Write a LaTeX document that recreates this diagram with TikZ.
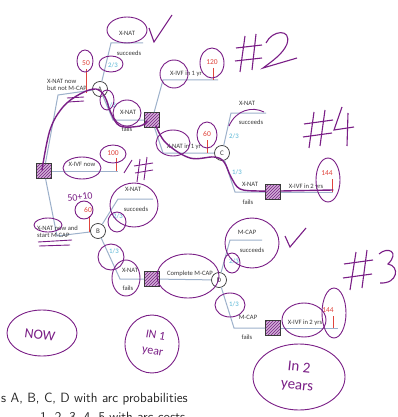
\documentclass[tikz,border=0pt]{standalone}
\usepackage{fontspec}
\setmainfont{Carlito}
\usetikzlibrary{patterns}
\definecolor{brc}{HTML}{9DB1CB}
\definecolor{txc}{HTML}{3A3A3A}
\definecolor{costc}{HTML}{E0443C}
\definecolor{probc}{HTML}{55B5D5}
\definecolor{penc}{HTML}{7A1E86}
\begin{document}
\begin{tikzpicture}[x=1pt,y=-1pt,
  lbl/.style={font=\fontsize{6.6}{7.4}\selectfont, text=txc, inner sep=0pt},
  costlbl/.style={font=\fontsize{7.5}{8}\selectfont, text=costc, inner sep=0pt},
  problbl/.style={font=\fontsize{6.8}{7}\selectfont, text=probc, inner sep=0pt},
  decbox/.style={draw=txc, minimum size=15pt, inner sep=0pt, line width=0.7pt,
     preaction={fill=penc!35}, pattern=north east lines, pattern color=penc},
  chance/.style={circle, draw=txc, minimum size=15pt, inner sep=0pt, line width=0.7pt,
     fill=white, font=\fontsize{7}{8}\selectfont, text=txc},
  edge/.style={draw=brc, line width=1pt},
  tick/.style={draw=costc, line width=0.8pt},
  pen/.style={draw=penc, line width=0.9pt},
  route/.style={draw=penc, line width=1.4pt, line cap=round, line join=round},
  hand/.style={text=penc, inner sep=0pt, font=\fontsize{14}{15}\selectfont}
]
\fill[white] (0,0) rectangle (398,417);
\useasboundingbox (0,0) rectangle (398,417);

% ---------- tree nodes ----------
\node[decbox] (R) at (44,171) {};
\node[chance] (A) at (100,89) {A};
\node[chance] (B) at (98,231) {B};
\node[chance] (C) at (222,153) {C};
\node[chance] (D) at (219,280) {D};
\node[decbox] (S1) at (152,120) {};
\node[decbox] (S2) at (273,192) {};
\node[decbox] (S3) at (152,279) {};
\node[decbox] (S4) at (273,328) {};

% ---------- connector points ----------
\coordinate (a0) at (58,95);
\coordinate (rm) at (118,171);
\coordinate (b0) at (57,236);
\coordinate (au) at (111,43);  \coordinate (au2) at (143,43);
\coordinate (ad) at (113,120);
\coordinate (s1u) at (163,80); \coordinate (s1u2) at (218,80);
\coordinate (s1d) at (163,153);
\coordinate (cu) at (231,113); \coordinate (cu2) at (266,113);
\coordinate (cd) at (235,192);
\coordinate (s2e) at (333,192);
\coordinate (bu) at (118,199); \coordinate (bu2) at (153,199);
\coordinate (bd) at (120,279);
\coordinate (du) at (230,240); \coordinate (du2) at (262,240);
\coordinate (dd) at (234,328);
\coordinate (s4e) at (338,328);

% ---------- connectors ----------
\draw[edge] (R) -- (a0) -- (A);
\draw[edge] (R) -- (rm);
\draw[edge] (R) -- (b0) -- (B);
\draw[edge] (A) -- (au) -- (au2);
\draw[edge] (A) -- (ad) -- (S1);
\draw[edge] (S1) -- (s1u) -- (s1u2);
\draw[edge] (S1) -- (s1d) -- (C);
\draw[edge] (C) -- (cu) -- (cu2);
\draw[edge] (C) -- (cd) -- (S2);
\draw[edge] (S2) -- (s2e);
\draw[edge] (B) -- (bu) -- (bu2);
\draw[edge] (B) -- (bd) -- (S3);
\draw[edge] (S3) -- (D);
\draw[edge] (D) -- (du) -- (du2);
\draw[edge] (D) -- (dd) -- (S4);
\draw[edge] (S4) -- (s4e);

% ---------- labels ----------
\node[lbl, anchor=west, align=left] (tA) at (47,85) {X-NAT now\\but not M-CAP};
\node[lbl, anchor=west, align=left] (tB) at (37,232) {X-NAT now and\\start M-CAP};
\node[lbl] (tIVF) at (82,164) {X-IVF now};
\node[lbl] (tA1) at (127,33) {X-NAT};
\node[lbl] (tA2) at (129,53) {succeeds};
\node[lbl] (tA3) at (128,112) {X-NAT};
\node[lbl] (tA4) at (127,129) {fails};
\node[lbl] (tS1a) at (186,74) {X-IVF in 1 yr};
\node[lbl] (tS1b) at (184,147) {X-NAT in 1 yr};
\node[lbl] (tC1) at (247,103) {X-NAT};
\node[lbl] (tC2) at (251,122) {succeeds};
\node[lbl] (tC3) at (250,184) {X-NAT};
\node[lbl] (tC4) at (248,202) {fails};
\node[lbl] (tS2) at (306,187) {X-IVF in 2 yrs};
\node[lbl] (tB1) at (133,189) {X-NAT};
\node[lbl] (tB2) at (136,209) {succeeds};
\node[lbl] (tB3) at (130,270) {X-NAT};
\node[lbl] (tB4) at (128,288) {fails};
\node[lbl] (tS3) at (190,274) {Complete M-CAP};
\node[lbl] (tD1) at (247,232) {M-CAP};
\node[lbl] (tD2) at (252,250) {succeeds};
\node[lbl] (tD3) at (248,317) {M-CAP};
\node[lbl] (tD4) at (247,337) {fails};
\node[lbl] (tS4) at (305,323) {X-IVF in 2 yrs};

% probabilities
\node[problbl] (pA1) at (113,65) {2/3};
\node[problbl] (pA2) at (111,105) {1/3};
\node[problbl] (pC1) at (234,136) {2/3};
\node[problbl] (pC2) at (237,172) {1/3};
\node[problbl] (pB1) at (118,216) {2/3};
\node[problbl] (pB2) at (114,251) {1/3};
\node[problbl] (pD1) at (234,261) {2/3};
\node[problbl] (pD2) at (234,304) {1/3};

% costs
\node[costlbl] (c50) at (86,63) {50};
\draw[tick] (86,69) -- (86,93);
\node[costlbl] (c100) at (113,153) {100};
\draw[tick] (116,158) -- (116,171);
\node[costlbl] (c60b) at (88,210) {60};
\draw[tick] (89,216) -- (89,232);
\node[costlbl] (c120) at (212,62) {120};
\draw[tick] (213,68) -- (213,80);
\node[costlbl] (c60c) at (207,134) {60};
\draw[tick] (207,140) -- (207,153);
\node[costlbl] (c144a) at (327,173) {144};
\draw[tick] (332,179) -- (332,192);
\node[costlbl] (c144b) at (328,310) {144};
\draw[tick] (333,316) -- (333,328);

% ---------- bottom text ----------
\node[anchor=base west, inner sep=0pt, font=\sffamily\fontsize{13.4}{15}\selectfont, text=black!85] (foot1) at (1,402) {s A, B, C, D with arc probabilities};
\node[anchor=base west, inner sep=0pt, font=\sffamily\fontsize{13.4}{15}\selectfont, text=black!85] (foot2) at (40,421) {1, 2, 3, 4, 5 with arc costs};

% ---------- handwritten annotations ----------
% highlighted route
\draw[route] plot[smooth, tension=0.6] coordinates {(42,170) (50,130) (63,107) (80,94) (96,89) (105,97) (111,113) (120,126) (140,126) (147,121)};
\draw[route] plot[smooth, tension=0.6] coordinates {(156,126) (166,143) (190,158) (214,157) (224,162) (231,177) (240,189) (258,191) (266,191)};
\draw[route] (281,191) -- (333,190);

% ellipses
\draw[pen] (127,30) ellipse [x radius=20pt, y radius=13pt];
\draw[pen] (85,61) ellipse [x radius=8pt, y radius=11pt];
\draw[pen] (111,64) ellipse [x radius=12pt, y radius=8pt];
\draw[pen] (107,100) ellipse [x radius=7pt, y radius=10pt];
\draw[pen] (127,113) ellipse [x radius=14pt, y radius=13pt];
\draw[pen] (174,74) ellipse [x radius=14pt, y radius=14pt];
\draw[pen] (212,63) ellipse [x radius=12pt, y radius=15pt];
\draw[pen] (173,143) ellipse [x radius=17pt, y radius=13pt];
\draw[pen] (207,135) ellipse [x radius=10pt, y radius=13pt];
\draw[pen] (328,180) ellipse [x radius=12pt, y radius=22pt];
\draw[pen] (82,168) ellipse [x radius=19pt, y radius=11pt];
\draw[pen] (113,154) ellipse [x radius=13pt, y radius=9pt];
\draw[pen] (84,210) ellipse [x radius=9pt, y radius=9pt];
\draw[pen] (48,225) ellipse [x radius=14pt, y radius=7pt];
\draw[pen] (134,205) ellipse [x radius=24pt, y radius=22pt];
\draw[pen] (117,222) ellipse [x radius=9pt, y radius=10pt];
\draw[pen] (111,257) ellipse [x radius=13pt, y radius=13pt];
\draw[pen] (126,278) ellipse [x radius=14pt, y radius=18pt];
\draw[pen] (188,276) ellipse [x radius=31pt, y radius=22pt];
\draw[pen] (252,243) ellipse [x radius=27pt, y radius=25pt];
\draw[pen] (232,263) ellipse [x radius=8pt, y radius=10pt];
\draw[pen] (230,305) ellipse [x radius=15pt, y radius=12pt];
\draw[pen] (304,320) ellipse [x radius=22pt, y radius=17pt];
\draw[pen] (334,313) ellipse [x radius=12pt, y radius=25pt];
\draw[pen] (229,126) .. controls (236,110) and (252,106) .. (264,112);
% underlines
\draw[pen] (67,98) -- (84,97);
\draw[pen] (68,102) -- (84,101);
\draw[pen] (38,242) -- (72,240);
\draw[pen] (39,246) -- (70,245);
% check marks
\draw[pen, line width=1.1pt] (149,28) -- (154,42) -- (172,15);
\draw[pen, line width=1.1pt] (285,236) -- (290,247) -- (306,228);
% slash and hash near X-IVF now
\draw[pen] (124,173) -- (132,160);
\draw[pen] (140,159) -- (137,182);
\draw[pen] (147,157) -- (144,180);
\draw[pen] (134,166) -- (153,163);
\draw[pen] (135,173) -- (153,170);
% #2
\draw[pen, line width=1.1pt] (245,36) -- (240,72);
\draw[pen, line width=1.1pt] (256,34) -- (252,70);
\draw[pen, line width=1.1pt] (236,48) -- (262,45);
\draw[pen, line width=1.1pt] (235,61) -- (262,58);
\draw[pen, line width=1.1pt] (266,43) .. controls (272,30) and (292,28) .. (287,44) .. controls (283,54) and (271,62) .. (263,68) -- (297,58);
% #4
\draw[pen, line width=1.1pt] (314,112) -- (309,148);
\draw[pen, line width=1.1pt] (325,110) -- (320,146);
\draw[pen, line width=1.1pt] (304,124) -- (333,120);
\draw[pen, line width=1.1pt] (303,137) -- (332,133);
\draw[pen, line width=1.1pt] (342,107) -- (334,130) -- (354,127);
\draw[pen, line width=1.1pt] (348,113) -- (347,146);
% #3
\draw[pen, line width=1.1pt] (356,252) -- (350,290);
\draw[pen, line width=1.1pt] (367,250) -- (362,288);
\draw[pen, line width=1.1pt] (344,264) -- (373,260);
\draw[pen, line width=1.1pt] (343,278) -- (372,274);
\draw[pen, line width=1.1pt] (379,254) .. controls (388,246) and (400,252) .. (388,264) .. controls (400,266) and (398,284) .. (380,283);
% 50+10
\node[hand, font=\fontsize{10}{11}\selectfont, rotate=8] (h5010) at (80,197) {50+10};
% NOW
\draw[pen] (42,333) ellipse [x radius=35pt, y radius=23pt];
\node[hand, rotate=-8] (hnow) at (40,335) {NOW};
% IN 1 year
\draw[pen] (152,344) ellipse [x radius=27pt, y radius=29pt];
\node[hand, align=center, font=\fontsize{12}{16}\selectfont, rotate=-10] (hyr1) at (154,344) {IN 1\\year};
% In 2 years
\draw[pen] (299,377) ellipse [x radius=46pt, y radius=33pt];
\node[hand, align=center, font=\fontsize{15}{18}\selectfont, rotate=-6] (hyr2) at (298,377) {In 2\\years};
\end{tikzpicture}
\end{document}
